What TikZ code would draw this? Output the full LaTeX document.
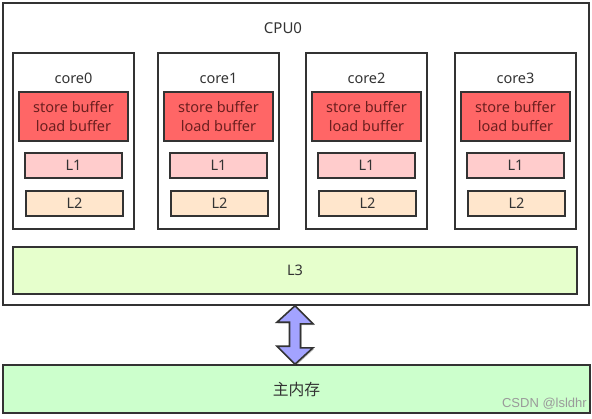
\documentclass[tikz,border=0pt]{standalone}
\usepackage{fontspec}
\setmainfont{Noto Sans}
\newfontfamily\cjk{Noto Sans CJK SC}
\newfontfamily\wmfont{Liberation Sans}
\usetikzlibrary{shadows}
\definecolor{edge}{HTML}{333333}
\definecolor{txt}{HTML}{333333}
\definecolor{bufred}{HTML}{FF6666}
\definecolor{lonefill}{HTML}{FFCCCC}
\definecolor{ltwofill}{HTML}{FFE6CC}
\definecolor{lthreefill}{HTML}{E6FFCC}
\definecolor{memfill}{HTML}{CCFFCC}
\definecolor{arrfill}{HTML}{A3A3FF}
\definecolor{wmgray}{HTML}{9A9A9A}
\definecolor{buftxt}{HTML}{6B1F1F}
\tikzset{
  boxbase/.style={draw=edge, line width=1.6pt, inner sep=0pt, rectangle,
    drop shadow={shadow xshift=1.2pt, shadow yshift=-1.2pt, opacity=0.25, fill=black}},
  cpubox/.style={boxbase, fill=white, minimum width=586pt, minimum height=302pt},
  corebox/.style={boxbase, fill=white, minimum width=121pt, minimum height=176pt},
  bufbox/.style={boxbase, fill=bufred, minimum width=109pt, minimum height=49pt,
    align=center, text=buftxt, font=\fontsize{14.5}{19}\selectfont},
  lonebox/.style={boxbase, fill=lonefill, minimum width=97pt, minimum height=25pt,
    text=txt, font=\fontsize{14.5}{17}\selectfont},
  ltwobox/.style={boxbase, fill=ltwofill, minimum width=97pt, minimum height=25pt,
    text=txt, font=\fontsize{14.5}{17}\selectfont},
  lthreebox/.style={boxbase, fill=lthreefill, minimum width=564pt, minimum height=47pt,
    text=txt, font=\fontsize{14.5}{17}\selectfont},
  membox/.style={boxbase, fill=memfill, minimum width=587pt, minimum height=48pt},
  lbl/.style={text=txt, inner sep=0pt, font=\fontsize{14.5}{17}\selectfont},
  arrowbody/.style={draw=edge, line width=1.6pt, fill=arrfill, line join=miter,
    drop shadow={shadow xshift=1.2pt, shadow yshift=-1.2pt, opacity=0.25, fill=black}},
}
\begin{document}
\begin{tikzpicture}[x=1pt, y=-1pt]
\useasboundingbox (0,0) rectangle (592,418);
\fill[white] (0,0) rectangle (592,418);

\node[cpubox] (cpu) at (296,154) {};
\node[lbl, font=\fontsize{15}{18}\selectfont] (cpulbl) at (283,28) {CPU0};

\foreach \i/\L in {0/13, 1/158, 2/306, 3/455} {
  \node[corebox] (core\i) at (\L+60.5,141) {};
  \node[lbl] (corelbl\i) at (\L+60.5,78) {core\i};
  \node[bufbox] (buf\i) at (\L+60.5,116.5) {store buffer\\load buffer};
  \node[lonebox] (lone\i) at (\L+60.5,165.5) {L1};
  \node[ltwobox] (ltwo\i) at (\L+61.5,203.5) {L2};
}

\node[lthreebox] (lthree) at (295,270.5) {L3};

\node[membox] (mem) at (296.5,389) {};
\node[lbl, font=\cjk\fontsize{15.8}{18}\selectfont] (memlbl) at (296.5,390) {主内存};

\coordinate (atop) at (cpu.south -| 295,0);
\coordinate (abot) at (mem.north -| 295,0);
\draw[arrowbody] (atop) -- ++(18,18) -- ++(-12.5,0) -- ++(0,24) -- ++(12.5,0)
  -- (abot) -- ++(-18,-18) -- ++(12.5,0) -- ++(0,-24) -- ++(-12.5,0) -- cycle;

\node[anchor=east, inner sep=0pt, text=wmgray, font=\wmfont\fontsize{13}{15}\selectfont] (wm) at (587,404) {CSDN @lsldhr};
\end{tikzpicture}
\end{document}
